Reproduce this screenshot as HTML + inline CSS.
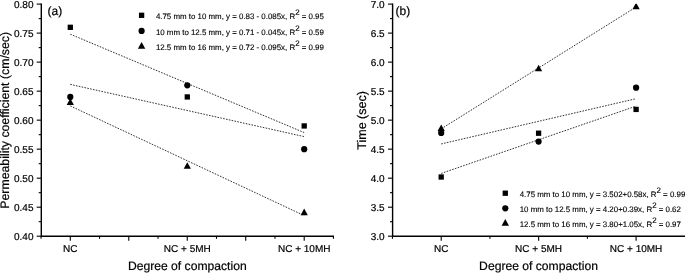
<!DOCTYPE html><html><head><meta charset="utf-8"><title>chart</title><style>html,body{margin:0;padding:0;background:#fff;overflow:hidden}svg{display:block;will-change:transform;opacity:0.999}text{font-family:"Liberation Sans",Arial,Helvetica,sans-serif;fill:#000;stroke:#000;stroke-width:0.2px;text-rendering:geometricPrecision}</style></head><body>
<svg width="685" height="273" viewBox="0 0 685 273">
<rect width="685" height="273" fill="#fff"/>
<path d="M41.3 3.4999999999999996V236.2H334.0" fill="none" stroke="#000" stroke-width="1.4"/>
<line x1="36.699999999999996" y1="4.10" x2="41.3" y2="4.10" stroke="#000" stroke-width="1.1"/>
<text x="33.5" y="7.55" font-size="10" text-anchor="end">0.80</text>
<line x1="38.699999999999996" y1="18.61" x2="41.3" y2="18.61" stroke="#000" stroke-width="1.1"/>
<line x1="36.699999999999996" y1="33.11" x2="41.3" y2="33.11" stroke="#000" stroke-width="1.1"/>
<text x="33.5" y="36.56" font-size="10" text-anchor="end">0.75</text>
<line x1="38.699999999999996" y1="47.62" x2="41.3" y2="47.62" stroke="#000" stroke-width="1.1"/>
<line x1="36.699999999999996" y1="62.12" x2="41.3" y2="62.12" stroke="#000" stroke-width="1.1"/>
<text x="33.5" y="65.57" font-size="10" text-anchor="end">0.70</text>
<line x1="38.699999999999996" y1="76.63" x2="41.3" y2="76.63" stroke="#000" stroke-width="1.1"/>
<line x1="36.699999999999996" y1="91.14" x2="41.3" y2="91.14" stroke="#000" stroke-width="1.1"/>
<text x="33.5" y="94.59" font-size="10" text-anchor="end">0.65</text>
<line x1="38.699999999999996" y1="105.64" x2="41.3" y2="105.64" stroke="#000" stroke-width="1.1"/>
<line x1="36.699999999999996" y1="120.15" x2="41.3" y2="120.15" stroke="#000" stroke-width="1.1"/>
<text x="33.5" y="123.60" font-size="10" text-anchor="end">0.60</text>
<line x1="38.699999999999996" y1="134.66" x2="41.3" y2="134.66" stroke="#000" stroke-width="1.1"/>
<line x1="36.699999999999996" y1="149.16" x2="41.3" y2="149.16" stroke="#000" stroke-width="1.1"/>
<text x="33.5" y="152.61" font-size="10" text-anchor="end">0.55</text>
<line x1="38.699999999999996" y1="163.67" x2="41.3" y2="163.67" stroke="#000" stroke-width="1.1"/>
<line x1="36.699999999999996" y1="178.18" x2="41.3" y2="178.18" stroke="#000" stroke-width="1.1"/>
<text x="33.5" y="181.62" font-size="10" text-anchor="end">0.50</text>
<line x1="38.699999999999996" y1="192.68" x2="41.3" y2="192.68" stroke="#000" stroke-width="1.1"/>
<line x1="36.699999999999996" y1="207.19" x2="41.3" y2="207.19" stroke="#000" stroke-width="1.1"/>
<text x="33.5" y="210.64" font-size="10" text-anchor="end">0.45</text>
<line x1="38.699999999999996" y1="221.69" x2="41.3" y2="221.69" stroke="#000" stroke-width="1.1"/>
<line x1="36.699999999999996" y1="236.20" x2="41.3" y2="236.20" stroke="#000" stroke-width="1.1"/>
<text x="33.5" y="239.65" font-size="10" text-anchor="end">0.40</text>
<line x1="41.06" y1="236.2" x2="41.06" y2="238.79999999999998" stroke="#000" stroke-width="1.1"/>
<line x1="70.30" y1="236.2" x2="70.30" y2="240.79999999999998" stroke="#000" stroke-width="1.1"/>
<line x1="99.54" y1="236.2" x2="99.54" y2="238.79999999999998" stroke="#000" stroke-width="1.1"/>
<line x1="128.77" y1="236.2" x2="128.77" y2="240.79999999999998" stroke="#000" stroke-width="1.1"/>
<line x1="158.01" y1="236.2" x2="158.01" y2="238.79999999999998" stroke="#000" stroke-width="1.1"/>
<line x1="187.25" y1="236.2" x2="187.25" y2="240.79999999999998" stroke="#000" stroke-width="1.1"/>
<line x1="216.49" y1="236.2" x2="216.49" y2="238.79999999999998" stroke="#000" stroke-width="1.1"/>
<line x1="245.72" y1="236.2" x2="245.72" y2="240.79999999999998" stroke="#000" stroke-width="1.1"/>
<line x1="274.96" y1="236.2" x2="274.96" y2="238.79999999999998" stroke="#000" stroke-width="1.1"/>
<line x1="304.20" y1="236.2" x2="304.20" y2="240.79999999999998" stroke="#000" stroke-width="1.1"/>
<line x1="333.44" y1="236.2" x2="333.44" y2="238.79999999999998" stroke="#000" stroke-width="1.1"/>
<text x="70.30" y="251.7" font-size="10" text-anchor="middle">NC</text>
<text x="187.30" y="251.7" font-size="10" text-anchor="middle">NC + 5MH</text>
<text x="304.20" y="251.7" font-size="10" text-anchor="middle">NC + 10MH</text>
<text x="187.3" y="270" font-size="12.15" text-anchor="middle">Degree of compaction</text>
<text transform="translate(8.9,120.3) rotate(-90)" font-size="12.3" text-anchor="middle">Permeability coefficient (cm/sec)</text>
<text x="47.6" y="15.3" font-size="12">(a)</text>
<line x1="70.30" y1="34.20" x2="304.20" y2="132.60" stroke="#1c1c1c" stroke-width="0.9" stroke-dasharray="1.6 1.3"/>
<line x1="70.30" y1="84.40" x2="304.20" y2="136.60" stroke="#1c1c1c" stroke-width="0.9" stroke-dasharray="1.6 1.3"/>
<line x1="70.30" y1="105.90" x2="304.20" y2="215.60" stroke="#1c1c1c" stroke-width="0.9" stroke-dasharray="1.6 1.3"/>
<polygon points="70.30,98.34 66.70,104.94 73.90,104.94" fill="#000"/>
<polygon points="187.30,162.17 183.70,168.77 190.90,168.77" fill="#000"/>
<polygon points="304.20,208.59 300.60,215.19 307.80,215.19" fill="#000"/>
<rect x="67.65" y="24.66" width="5.30" height="5.30" fill="#000"/>
<rect x="184.65" y="94.29" width="5.30" height="5.30" fill="#000"/>
<rect x="301.55" y="123.30" width="5.30" height="5.30" fill="#000"/>
<circle cx="70.30" cy="96.94" r="3.1" fill="#000"/>
<circle cx="187.30" cy="85.33" r="3.1" fill="#000"/>
<circle cx="304.20" cy="149.16" r="3.1" fill="#000"/>
<rect x="138.95" y="12.65" width="5.30" height="5.30" fill="#000"/>
<circle cx="141.60" cy="30.90" r="3.1" fill="#000"/>
<polygon points="141.60,41.97 137.90,48.77 145.30,48.77" fill="#000"/>
<text x="155.9" y="19.2" font-size="7.9" style="stroke-width:0.12px">4.75 mm to 10 mm, y = 0.83 - 0.085x, R<tspan dy="-4.2">2</tspan><tspan dy="4.2"> = 0.95</tspan></text>
<text x="155.9" y="34.8" font-size="7.9" style="stroke-width:0.12px">10 mm to 12.5 mm, y = 0.71 - 0.045x, R<tspan dy="-4.2">2</tspan><tspan dy="4.2"> = 0.59</tspan></text>
<text x="155.9" y="50.1" font-size="7.9" style="stroke-width:0.12px">12.5 mm to 16 mm, y = 0.72 - 0.095x, R<tspan dy="-4.2">2</tspan><tspan dy="4.2"> = 0.99</tspan></text>
<path d="M392.6 3.4999999999999996V236.2H685" fill="none" stroke="#000" stroke-width="1.4"/>
<line x1="388.0" y1="4.10" x2="392.6" y2="4.10" stroke="#000" stroke-width="1.1"/>
<text x="384.70000000000005" y="7.55" font-size="10" text-anchor="end">7.0</text>
<line x1="390.0" y1="18.61" x2="392.6" y2="18.61" stroke="#000" stroke-width="1.1"/>
<line x1="388.0" y1="33.11" x2="392.6" y2="33.11" stroke="#000" stroke-width="1.1"/>
<text x="384.70000000000005" y="36.56" font-size="10" text-anchor="end">6.5</text>
<line x1="390.0" y1="47.62" x2="392.6" y2="47.62" stroke="#000" stroke-width="1.1"/>
<line x1="388.0" y1="62.12" x2="392.6" y2="62.12" stroke="#000" stroke-width="1.1"/>
<text x="384.70000000000005" y="65.58" font-size="10" text-anchor="end">6.0</text>
<line x1="390.0" y1="76.63" x2="392.6" y2="76.63" stroke="#000" stroke-width="1.1"/>
<line x1="388.0" y1="91.14" x2="392.6" y2="91.14" stroke="#000" stroke-width="1.1"/>
<text x="384.70000000000005" y="94.59" font-size="10" text-anchor="end">5.5</text>
<line x1="390.0" y1="105.64" x2="392.6" y2="105.64" stroke="#000" stroke-width="1.1"/>
<line x1="388.0" y1="120.15" x2="392.6" y2="120.15" stroke="#000" stroke-width="1.1"/>
<text x="384.70000000000005" y="123.60" font-size="10" text-anchor="end">5.0</text>
<line x1="390.0" y1="134.66" x2="392.6" y2="134.66" stroke="#000" stroke-width="1.1"/>
<line x1="388.0" y1="149.16" x2="392.6" y2="149.16" stroke="#000" stroke-width="1.1"/>
<text x="384.70000000000005" y="152.61" font-size="10" text-anchor="end">4.5</text>
<line x1="390.0" y1="163.67" x2="392.6" y2="163.67" stroke="#000" stroke-width="1.1"/>
<line x1="388.0" y1="178.17" x2="392.6" y2="178.17" stroke="#000" stroke-width="1.1"/>
<text x="384.70000000000005" y="181.62" font-size="10" text-anchor="end">4.0</text>
<line x1="390.0" y1="192.68" x2="392.6" y2="192.68" stroke="#000" stroke-width="1.1"/>
<line x1="388.0" y1="207.19" x2="392.6" y2="207.19" stroke="#000" stroke-width="1.1"/>
<text x="384.70000000000005" y="210.64" font-size="10" text-anchor="end">3.5</text>
<line x1="390.0" y1="221.69" x2="392.6" y2="221.69" stroke="#000" stroke-width="1.1"/>
<line x1="388.0" y1="236.20" x2="392.6" y2="236.20" stroke="#000" stroke-width="1.1"/>
<text x="384.70000000000005" y="239.65" font-size="10" text-anchor="end">3.0</text>
<line x1="392.47" y1="236.2" x2="392.47" y2="238.79999999999998" stroke="#000" stroke-width="1.1"/>
<line x1="441.20" y1="236.2" x2="441.20" y2="240.79999999999998" stroke="#000" stroke-width="1.1"/>
<line x1="489.93" y1="236.2" x2="489.93" y2="238.79999999999998" stroke="#000" stroke-width="1.1"/>
<line x1="538.65" y1="236.2" x2="538.65" y2="240.79999999999998" stroke="#000" stroke-width="1.1"/>
<line x1="587.38" y1="236.2" x2="587.38" y2="238.79999999999998" stroke="#000" stroke-width="1.1"/>
<line x1="636.10" y1="236.2" x2="636.10" y2="240.79999999999998" stroke="#000" stroke-width="1.1"/>
<text x="441.20" y="251.7" font-size="10" text-anchor="middle">NC</text>
<text x="538.60" y="251.7" font-size="10" text-anchor="middle">NC + 5MH</text>
<text x="636.10" y="251.7" font-size="10" text-anchor="middle">NC + 10MH</text>
<text x="538.5" y="270" font-size="12.15" text-anchor="middle">Degree of compaction</text>
<text transform="translate(366.3,120.4) rotate(-90)" font-size="12.5" text-anchor="middle">Time (sec)</text>
<text x="395.5" y="15.3" font-size="12">(b)</text>
<line x1="441.20" y1="173.42" x2="636.10" y2="106.11" stroke="#1c1c1c" stroke-width="0.9" stroke-dasharray="1.6 1.3"/>
<line x1="441.20" y1="143.94" x2="636.10" y2="98.68" stroke="#1c1c1c" stroke-width="0.9" stroke-dasharray="1.6 1.3"/>
<line x1="441.20" y1="128.85" x2="636.10" y2="7.00" stroke="#1c1c1c" stroke-width="0.9" stroke-dasharray="1.6 1.3"/>
<clipPath id="cb"><rect x="380" y="3.7" width="305" height="240"/></clipPath><g clip-path="url(#cb)">
<polygon points="441.20,124.45 437.60,131.05 444.80,131.05" fill="#000"/>
<polygon points="538.60,64.69 535.00,71.29 542.20,71.29" fill="#000"/>
<polygon points="636.10,2.60 632.50,9.20 639.70,9.20" fill="#000"/>
</g>
<rect x="438.55" y="174.36" width="5.30" height="5.30" fill="#000"/>
<rect x="535.95" y="130.56" width="5.30" height="5.30" fill="#000"/>
<rect x="633.45" y="106.77" width="5.30" height="5.30" fill="#000"/>
<circle cx="441.20" cy="132.92" r="3.1" fill="#000"/>
<circle cx="538.60" cy="141.62" r="3.1" fill="#000"/>
<circle cx="636.10" cy="87.66" r="3.1" fill="#000"/>
<rect x="502.65" y="190.55" width="5.30" height="5.30" fill="#000"/>
<circle cx="505.30" cy="208.30" r="3.1" fill="#000"/>
<polygon points="505.30,219.07 501.60,225.87 509.00,225.87" fill="#000"/>
<text x="519.7" y="196.7" font-size="7.9" style="stroke-width:0.12px">4.75 mm to 10 mm, y = 3.502+0.58x, R<tspan dy="-4.2">2</tspan><tspan dy="4.2"> = 0.99</tspan></text>
<text x="519.7" y="211.85" font-size="7.9" style="stroke-width:0.12px">10 mm to 12.5 mm, y = 4.20+0.39x, R<tspan dy="-4.2">2</tspan><tspan dy="4.2"> = 0.62</tspan></text>
<text x="519.7" y="226.8" font-size="7.9" style="stroke-width:0.12px">12.5 mm to 16 mm, y = 3.80+1.05x, R<tspan dy="-4.2">2</tspan><tspan dy="4.2"> = 0.97</tspan></text>
</svg></body></html>
